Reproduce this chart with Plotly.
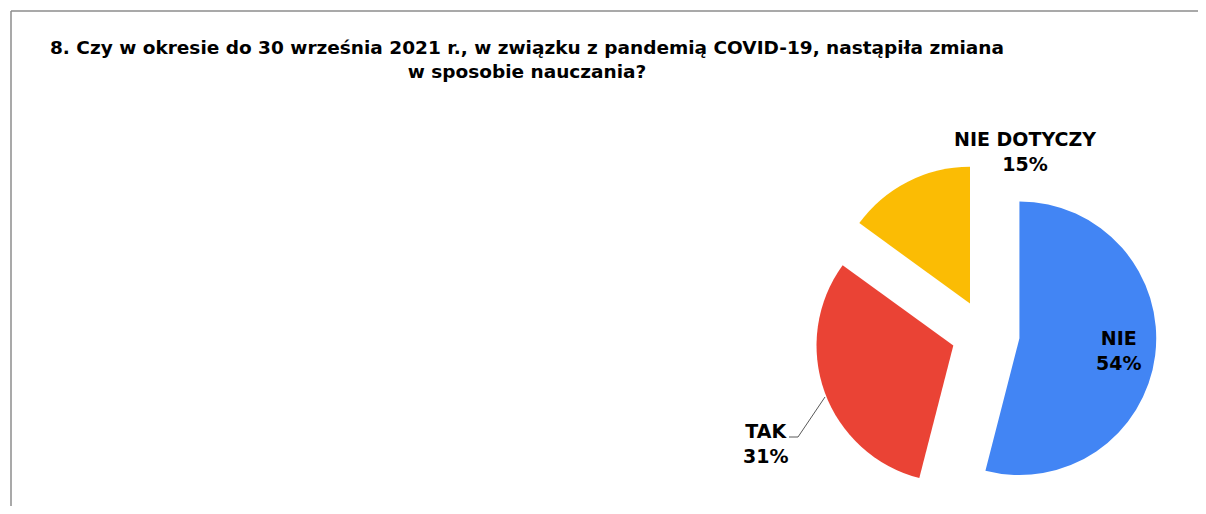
import plotly.graph_objects as go

labels = ["NIE", "TAK", "NIE DOTYCZY"]
values = [54, 31, 15]
colors = ["#4285F4", "#EA4335", "#FBBC04"]
title_lines = ["8. Czy w okresie do 30 września 2021 r., w związku z pandemią COVID-19, nastąpiła zmiana",
               "w sposobie nauczania?"]

# page offset (body margin) and figure size so the figure fits the window exactly
OFF = 8
W, H = 1206 - 2 * OFF, 514 - 2 * OFF

def px(x):
    return (x - OFF) / W

def py(y):
    return 1 - (y - OFF) / H

fig = go.Figure()
fig.add_trace(go.Pie(
    labels=labels, values=values, sort=False, direction="clockwise", rotation=0,
    marker=dict(colors=colors, line=dict(width=0)),
    pull=[0.25, 0.25, 0.25],
    textinfo="none", hoverinfo="label+percent", showlegend=False,
    domain=dict(x=[px(814), px(1157)], y=[py(505), py(163)]),
))

label_font = dict(family="DejaVu Sans", size=19, color="#000000")
pos = {"NIE": (1118, 350), "TAK": (765, 443), "NIE DOTYCZY": (1025, 151)}
total = sum(values)
for lab, val in zip(labels, values):
    x, y = pos[lab]
    fig.add_annotation(x=px(x), y=py(y), xref="paper", yref="paper",
                       text=f"<b>{lab}<br>{round(100*val/total)}%</b>",
                       showarrow=False, font=label_font, xanchor="center", yanchor="middle")

shapes = [
    dict(type="line", xref="paper", yref="paper", x0=px(11), x1=1, y0=py(11), y1=py(11),
         line=dict(color="#8c8c8c", width=1.5)),
    dict(type="line", xref="paper", yref="paper", x0=px(11), x1=px(11), y0=py(11), y1=0,
         line=dict(color="#8c8c8c", width=1.5)),
    dict(type="path", xref="paper", yref="paper",
         path=f"M {px(789)},{py(437)} L {px(798)},{py(437)} L {px(825)},{py(397)}",
         line=dict(color="#595959", width=1)),
]

fig.update_layout(
    width=W, height=H,
    margin=dict(l=0, r=0, t=0, b=0),
    paper_bgcolor="white", plot_bgcolor="white",
    shapes=shapes,
    title=dict(text="<b>" + "<br>".join(title_lines) + "</b>",
               x=px(527), xanchor="center", xref="paper",
               y=py(54), yanchor="top", yref="container",
               font=dict(family="DejaVu Sans", size=18.5, color="#000000")),
)

fig.write_html("out.html", config={"displayModeBar": False})
